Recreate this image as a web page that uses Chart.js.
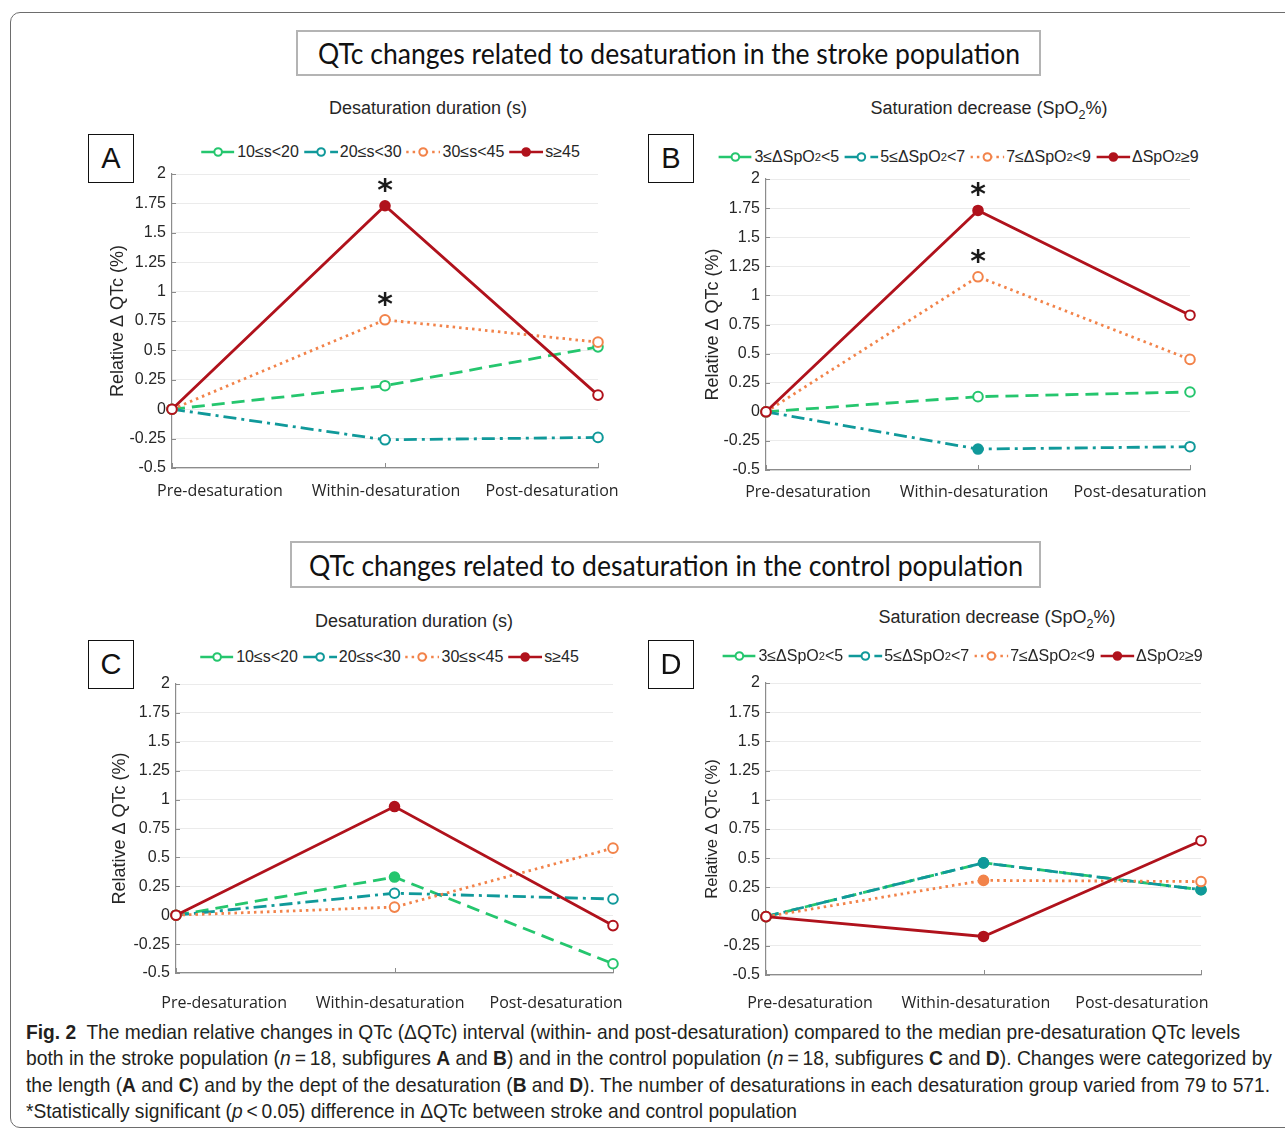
<!DOCTYPE html>
<html>
<head>
<meta charset="utf-8">
<script src="https://cdn.jsdelivr.net/npm/chart.js@4.4.1/dist/chart.umd.min.js"></script>
<style>
  body { margin: 0; width: 1285px; height: 1130px; overflow: hidden; position: relative; background: #fff;
         font-family: "Liberation Sans", Arial, sans-serif; color: #262626; }
  .frame { position: absolute; left: 10px; top: 12px; width: 1300px; height: 1114px; border: 1px solid #6d6d6d; border-radius: 10px; }
  .headbox { position: absolute; border: 2px solid #b4b4b4; box-sizing: border-box; }
  .headbox span { position: absolute; left: 50%; top: 50%; white-space: nowrap; font-family: Lato, "Open Sans", sans-serif;
                  font-size: 28px; color: #111; transform-origin: center; }
  .letter { position: absolute; width: 46px; height: 49px; border: 1.5px solid #111; box-sizing: border-box;
            font-size: 29px; line-height: 46px; text-align: center; color: #111; }
  .subtitle { position: absolute; white-space: nowrap; font-size: 18px; transform: translate(-50%, -50%); }
  .legend { position: absolute; white-space: nowrap; font-size: 16px; transform: translate(-50%, -50%); display: flex; align-items: center; }
  .legend .item { display: inline-flex; align-items: center; margin-right: 5px; }
  .legend svg { margin-right: 2px; }
  sub { font-size: 70%; vertical-align: -0.4em; line-height: 0; }
  canvas { position: absolute; }
  .cap { position: absolute; left: 26px; white-space: nowrap; font-family: "Liberation Sans Narrow", "Liberation Sans", sans-serif;
         font-size: 21px; line-height: 22px; color: #231f20; transform-origin: left center; }
</style>
</head>
<body>
<div class="frame"></div>

<div class="headbox" style="left:296px;top:30px;width:745px;height:46px;"><span data-w="702">QTc changes related to desaturation in the stroke population</span></div>
<div class="headbox" style="left:290px;top:541px;width:751px;height:47px;"><span data-w="714">QTc changes related to desaturation in the control population</span></div>

<div id="panels"></div>

<div class="cap" style="top:1021px;" data-w="1214"><b>Fig. 2</b>&nbsp; The median relative changes in QTc (ΔQTc) interval (within- and post-desaturation) compared to the median pre-desaturation QTc levels</div>
<div class="cap" style="top:1047px;" data-w="1246">both in the stroke population (<i>n</i>&#8201;=&#8201;18, subfigures <b>A</b> and <b>B</b>) and in the control population (<i>n</i>&#8201;=&#8201;18, subfigures <b>C</b> and <b>D</b>). Changes were categorized by</div>
<div class="cap" style="top:1074px;" data-w="1244">the length (<b>A</b> and <b>C</b>) and by the dept of the desaturation (<b>B</b> and <b>D</b>). The number of desaturations in each desaturation group varied from 79 to 571.</div>
<div class="cap" style="top:1100px;" data-w="771">*Statistically significant (<i>p</i>&#8201;&lt;&#8201;0.05) difference in ΔQTc between stroke and control population</div>

<script>
const stages = ['Pre-desaturation', 'Within-desaturation', 'Post-desaturation'];
const durationGroups = ['10≤s<20', '20≤s<30', '30≤s<45', 's≥45'];
const depthGroups = ['3≤ΔSpO2<5', '5≤ΔSpO2<7', '7≤ΔSpO2<9', 'ΔSpO2≥9'];

// median relative change in QTc (%), one row per group, one column per stage
const strokeByDuration = [[0, 0.20, 0.53], [0, -0.26, -0.24], [0, 0.76, 0.57], [0, 1.73, 0.12]];
const strokeByDepth = [[0, 0.13, 0.17], [0, -0.32, -0.30], [0, 1.16, 0.45], [0, 1.73, 0.83]];
const controlByDuration = [[0, 0.33, -0.42], [0, 0.19, 0.14], [0, 0.07, 0.58], [0, 0.94, -0.09]];
const controlByDepth = [[0, 0.46, 0.23], [0, 0.46, 0.23], [0, 0.31, 0.30], [0, -0.17, 0.65]];

// stroke vs control significant: [group, stage]
const strokeDurationStars = [[3, 1], [2, 1]];
const strokeDepthStars = [[3, 1], [2, 1]];

// line styles per group
const groupStyles = [
    { color: '#25c66e', dash: [13, 7] },
    { color: '#10999a', dash: [13, 5, 3, 5] },
    { color: '#f2834a', dash: [2.5, 4] },
    { color: '#b0121c', dash: [] }
];
const legendFilled = [false, false, false, true];

const panels = [
    { id: 'A', values: strokeByDuration, names: durationGroups, stars: strokeDurationStars, filled: [[3, 1]],
      title: 'Desaturation duration (s)', plot: { l: 172, r: 598, t: 174, b: 468 }, yTitleX: 118, yTitleSize: 18,
      labelPad: 14, labelMin: -0.289, labelMax: 2.277, legend: [393, 152], sub: [428, 108], box: [88, 134] },
    { id: 'B', values: strokeByDepth, names: depthGroups, stars: strokeDepthStars, filled: [[3, 1], [1, 1]],
      title: 'Saturation decrease (SpO2%)', plot: { l: 766, r: 1190, t: 179, b: 470 }, yTitleX: 713, yTitleSize: 18,
      labelPad: 13, labelMin: -0.253, labelMax: 2.301, legend: [961, 157], sub: [989, 108], box: [648, 134] },
    { id: 'C', values: controlByDuration, names: durationGroups, stars: [], filled: [[3, 1], [0, 1]],
      title: 'Desaturation duration (s)', plot: { l: 176, r: 613, t: 684, b: 973 }, yTitleX: 120, yTitleSize: 18,
      labelPad: 21, labelMin: -0.29, labelMax: 2.343, legend: [392, 657], sub: [414, 621], box: [88, 640] },
    { id: 'D', values: controlByDepth, names: depthGroups, stars: [], filled: [[3, 1], [1, 1], [0, 1], [2, 1], [1, 2]],
      title: 'Saturation decrease (SpO2%)', plot: { l: 766, r: 1201, t: 683, b: 975 }, yTitleX: 712, yTitleSize: 16.5,
      labelPad: 19, labelMin: -0.265, labelMax: 2.356, legend: [965, 656], sub: [997, 617], box: [648, 640] }
];

const fmt = s => s.replace(/</g, '&lt;').replace(/SpO2/g, 'SpO<sub>2</sub>');

const starPlugin = {
    id: 'stars',
    afterDatasetsDraw(chart, args, opts) {
        const ctx = chart.ctx;
        ctx.save();
        ctx.font = 'bold 30px "DejaVu Sans"';
        ctx.fillStyle = '#1a1a1a';
        ctx.textAlign = 'center';
        ctx.textBaseline = 'middle';
        (opts.marks || []).forEach(([g, s]) => {
            const pt = chart.getDatasetMeta(g).data[s];
            ctx.fillText('*', pt.x, pt.y - 14);
        });
        ctx.restore();
    }
};

// small inward tick marks, MATLAB style
const tickMarks = {
    id: 'tickMarks',
    beforeDatasetsDraw(chart) {
        const { ctx, chartArea: a, scales: { x, y } } = chart;
        ctx.save();
        ctx.strokeStyle = '#8c8c8c';
        ctx.lineWidth = 1;
        ctx.beginPath();
        stages.forEach((_, i) => {
            const px = Math.round(x.getPixelForValue(i)) + 0.5;
            ctx.moveTo(px, a.bottom);
            ctx.lineTo(px, a.bottom - 5);
        });
        y.ticks.forEach(t => {
            const py = Math.round(y.getPixelForValue(t.value)) + 0.5;
            ctx.moveTo(a.left, py);
            ctx.lineTo(a.left + 4, py);
        });
        ctx.stroke();
        ctx.restore();
    }
};

function legendHtml(names) {
    return names.map((n, i) => {
        const s = groupStyles[i];
        return `<span class="item"><svg width="34" height="12"><line x1="0" y1="6" x2="34" y2="6" stroke="${s.color}" stroke-width="2.6" stroke-dasharray="${s.dash.join(' ') || 'none'}"/>` +
            `<circle cx="17" cy="6" r="3.8" fill="${legendFilled[i] ? s.color : '#fff'}" stroke="${s.color}" stroke-width="2"/></svg>${fmt(n)}</span>`;
    }).join('');
}

const LEFT = 90, TOP = 20, RIGHT = 40, BOTTOM = 40;
const host = document.getElementById('panels');

panels.forEach(p => {
    const el = html => { host.insertAdjacentHTML('beforeend', html); };
    el(`<div class="letter" style="left:${p.box[0]}px;top:${p.box[1]}px;">${p.id}</div>`);
    el(`<div class="subtitle" style="left:${p.sub[0]}px;top:${p.sub[1]}px;">${fmt(p.title)}</div>`);
    el(`<div class="legend" style="left:${p.legend[0]}px;top:${p.legend[1]}px;">${legendHtml(p.names)}</div>`);

    const w = p.plot.r - p.plot.l + LEFT + RIGHT;
    const h = p.plot.b - p.plot.t + TOP + BOTTOM;
    const canvas = document.createElement('canvas');
    canvas.width = w; canvas.height = h;
    canvas.style.left = (p.plot.l - LEFT) + 'px';
    canvas.style.top = (p.plot.t - TOP) + 'px';
    canvas.style.width = w + 'px'; canvas.style.height = h + 'px';
    host.appendChild(canvas);

    const isFilled = (g, s) => p.filled.some(([a, b]) => a === g && b === s);
    const datasets = p.values.map((vals, g) => ({
        label: p.names[g],
        data: vals,
        borderColor: groupStyles[g].color,
        borderDash: groupStyles[g].dash,
        borderWidth: 2.8,
        borderCapStyle: 'butt',
        pointRadius: 4.8,
        pointBorderWidth: 2,
        pointBorderColor: groupStyles[g].color,
        pointBackgroundColor: vals.map((_, s) => isFilled(g, s) ? groupStyles[g].color : '#fff'),
        tension: 0,
        fill: false,
        order: p.values.length - 1 - g
    }));

    const tickFont = { family: '"Liberation Sans", Arial, sans-serif', size: 16 };
    new Chart(canvas, {
        type: 'line',
        data: { labels: stages, datasets },
        options: {
            responsive: false,
            animation: false,
            devicePixelRatio: 1,
            layout: { padding: { left: 0, top: TOP, right: RIGHT, bottom: 0 } },
            plugins: { legend: { display: false }, tooltip: { enabled: false }, stars: { marks: p.stars } },
            scales: {
                x: {
                    type: 'category', offset: false,
                    grid: { display: false, drawTicks: false },
                    ticks: { display: false },
                    border: { color: '#8c8c8c', width: 1.2 },
                    afterFit: s => { s.height = 0; }
                },
                x2: {
                    type: 'linear', position: 'bottom', min: p.labelMin, max: p.labelMax,
                    grid: { display: false, drawTicks: false },
                    border: { display: false },
                    ticks: {
                        stepSize: 1, includeBounds: false, autoSkip: false, maxRotation: 0, minRotation: 0,
                        padding: p.labelPad, color: '#262626',
                        font: { family: '"Open Sans", sans-serif', size: 16 },
                        callback: v => stages[v] ?? ''
                    },
                    afterFit: s => { s.height = BOTTOM; }
                },
                y: {
                    min: -0.5, max: 2,
                    ticks: { stepSize: 0.25, padding: 6, color: '#262626', font: tickFont, callback: v => String(+v.toFixed(2)) },
                    grid: { color: '#ebebeb', drawTicks: false },
                    border: { color: '#8c8c8c', width: 1.2 },
                    title: {
                        display: true, text: 'Relative Δ QTc (%)', color: '#262626',
                        font: { family: '"Liberation Sans", Arial, sans-serif', size: p.yTitleSize },
                        padding: { top: p.yTitleX - (p.plot.l - LEFT) - p.yTitleSize * 0.6, bottom: 0 }
                    },
                    afterFit: s => { s.width = LEFT; }
                }
            }
        },
        plugins: [starPlugin, tickMarks]
    });
});

// squeeze text lines to the widths they have in the figure
document.querySelectorAll('[data-w]').forEach(e => {
    const natural = e.getBoundingClientRect().width;
    const k = Number(e.dataset.w) / natural;
    if (e.classList.contains('cap')) {
        e.style.transform = `scaleX(${k})`;
    } else {
        e.style.transform = `translate(-50%, -50%) scaleX(${k})`;
    }
});
</script>
</body>
</html>
